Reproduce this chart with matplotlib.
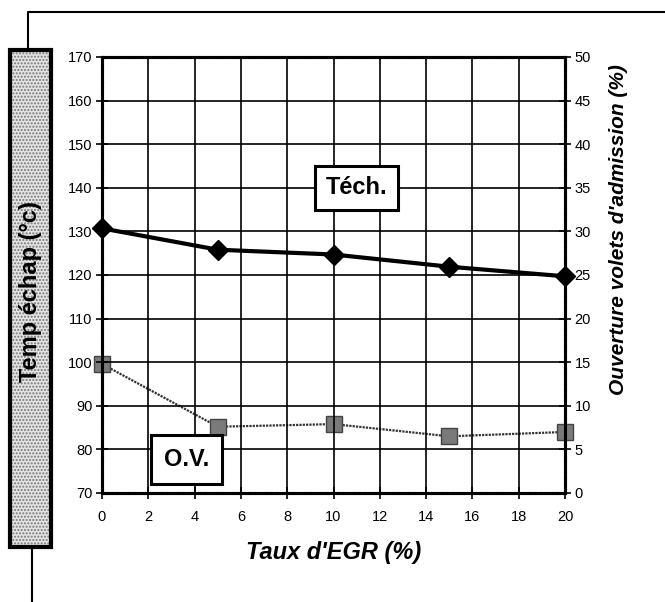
import numpy as np
import matplotlib
matplotlib.use("Agg")
import matplotlib.pyplot as plt
from matplotlib.patches import Rectangle
from matplotlib.lines import Line2D

plt.rcParams['font.family'] = ['Liberation Sans', 'DejaVu Sans']

# ------------------------------------------------------------------
# Data
# ------------------------------------------------------------------
egr = [0, 5, 10, 15, 20]                      # Taux d'EGR (%)
t_ech = [130.7, 125.8, 124.7, 121.9, 119.7]   # Temp échap (°c), left axis
ouv = [14.8, 7.6, 7.9, 6.5, 7.0]              # Ouverture volets (%), right axis

x_ticks = list(range(0, 21, 2))
y_left_ticks = list(range(70, 171, 10))
y_right_ticks = list(range(0, 51, 5))

W, H = 665, 602
fig = plt.figure(figsize=(W / 100, H / 100), dpi=100)


def fx(px):
    return px / W


def fy(py):
    return 1 - py / H


# axes box: left 102, right 565, top 57, bottom 493 (pixels)
ax = fig.add_axes([fx(102), fy(493), fx(565) - fx(102), fy(57) - fy(493)])
ax2 = ax.twinx()

ax.set_xlim(0, 20)
ax.set_ylim(70, 170)
ax2.set_ylim(0, 50)
ax.set_xticks(x_ticks)
ax.set_yticks(y_left_ticks)
ax2.set_yticks(y_right_ticks)
ax.grid(True, color='black', lw=1.2)
ax.set_axisbelow(True)

for a in (ax, ax2):
    for s in a.spines.values():
        s.set_linestyle((0, (1, 0.8)))
        s.set_linewidth(2.2)
    a.tick_params(direction='inout', length=8, width=1.2, labelsize=10.5, pad=3)
ax.tick_params(axis='x', pad=8)

# O.V. series (right axis)
ax2.plot(egr, ouv, color='#333333', lw=1.6, ls=(0, (1, 0.5)),
         marker='s', markersize=11, markerfacecolor='#7a7a7a',
         markeredgecolor='#444444', markeredgewidth=1, zorder=3, clip_on=False)
# Téch. series (left axis)
ax.plot(egr, t_ech, color='black', lw=3, marker='D', markersize=10,
        markerfacecolor='black', markeredgecolor='black', zorder=3, clip_on=False)
ax.set_zorder(ax2.get_zorder() + 1)
ax.patch.set_visible(False)

# series labels
ax.text(11.0, 140.0, 'Téch.', fontsize=17, fontweight='bold', ha='center', va='center',
        bbox=dict(boxstyle='square,pad=0.45', fc='white', ec='black', lw=2.2), zorder=5)
ax.text(3.65, 77.6, 'O.V.', fontsize=17, fontweight='bold', ha='center', va='center',
        bbox=dict(boxstyle='square,pad=0.55', fc='white', ec='black', lw=2.2), zorder=5)

# axis titles
fig.text(fx(334), fy(552), "Taux d'EGR (%)", fontsize=17, fontweight='bold',
         fontstyle='italic', ha='center', va='center')
fig.text(fx(618), fy(230), "Ouverture volets d'admission (%)", fontsize=15,
         fontweight='bold', fontstyle='italic', rotation=90, ha='center', va='center')

# left title box with dotted fill
bx0, bx1, by0, by1 = 10, 51, 50, 547
fig.add_artist(Rectangle((fx(bx0), fy(by1)), fx(bx1) - fx(bx0), fy(by0) - fy(by1),
                         transform=fig.transFigure, facecolor='#e4e4e4',
                         hatch='.....', edgecolor='#777777', lw=0))
fig.add_artist(Rectangle((fx(bx0), fy(by1)), fx(bx1) - fx(bx0), fy(by0) - fy(by1),
                         transform=fig.transFigure, fill=False, edgecolor='black', lw=3))
fig.text(fx((bx0 + bx1) / 2), fy(292), 'Temp échap (°c)', fontsize=17,
         fontweight='bold', rotation=90, ha='center', va='center')

# outer frame lines
fig.add_artist(Line2D([fx(28), fx(28), 1.0], [fy(50), fy(12), fy(12)],
                      transform=fig.transFigure, color='black', lw=1.5))
fig.add_artist(Line2D([fx(32), fx(32)], [fy(547), 0.0],
                      transform=fig.transFigure, color='black', lw=1.5))

fig.savefig('out.png', dpi=100, facecolor='white')
